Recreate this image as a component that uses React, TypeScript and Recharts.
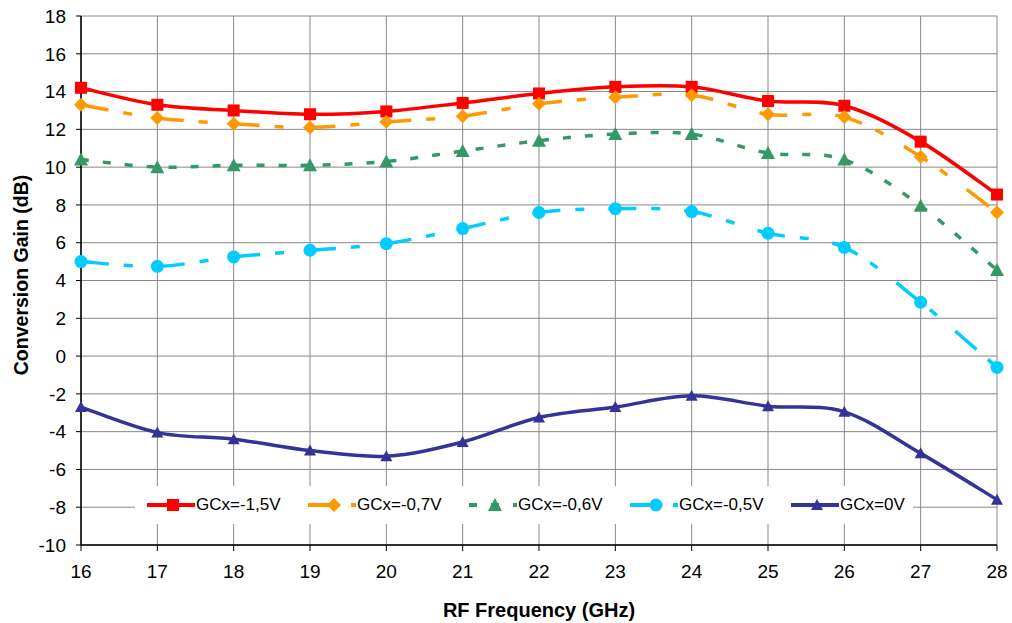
import React from "react";
import { CartesianGrid, Label, Legend, Line, LineChart, XAxis, YAxis } from "recharts";

const freqs = [16, 17, 18, 19, 20, 21, 22, 23, 24, 25, 26, 27, 28];
const gcxM15 = [14.2, 13.3, 13.0, 12.8, 12.95, 13.4, 13.9, 14.25, 14.25, 13.5, 13.25, 11.35, 8.55];
const gcxM07 = [13.3, 12.6, 12.3, 12.1, 12.4, 12.7, 13.35, 13.7, 13.8, 12.8, 12.65, 10.55, 7.6];
const gcxM06 = [10.4, 10.0, 10.1, 10.1, 10.3, 10.85, 11.4, 11.75, 11.75, 10.75, 10.4, 7.95, 4.55];
const gcxM05 = [5.0, 4.75, 5.25, 5.6, 5.95, 6.75, 7.6, 7.8, 7.65, 6.5, 5.75, 2.85, -0.6];
const gcx0 = [-2.7, -4.05, -4.4, -5.0, -5.3, -4.55, -3.25, -2.7, -2.1, -2.65, -2.95, -5.15, -7.6];
const yTicks = [-10, -8, -6, -4, -2, 0, 2, 4, 6, 8, 10, 12, 14, 16, 18];

const data = freqs.map((f, i) => ({
  f,
  m15: gcxM15[i],
  m07: gcxM07[i],
  m06: gcxM06[i],
  m05: gcxM05[i],
  v0: gcx0[i],
}));

// excel-like smoothing (catmull-rom)
function smooth(context: any) {
  let pts: number[][] = [];
  return {
    areaStart() {},
    areaEnd() {},
    lineStart() { pts = []; },
    point(x: number, y: number) { pts.push([+x, +y]); },
    lineEnd() {
      if (!pts.length) return;
      context.moveTo(pts[0][0], pts[0][1]);
      for (let i = 0; i < pts.length - 1; i++) {
        const p0 = pts[i - 1] || pts[i];
        const p1 = pts[i];
        const p2 = pts[i + 1];
        const p3 = pts[i + 2] || p2;
        context.bezierCurveTo(
          p1[0] + (p2[0] - p0[0]) / 6, p1[1] + (p2[1] - p0[1]) / 6,
          p2[0] - (p3[0] - p1[0]) / 6, p2[1] - (p3[1] - p1[1]) / 6,
          p2[0], p2[1]
        );
      }
    },
  };
}

type Shape = "square" | "diamond" | "triangle" | "circle" | "smalltri";

function marker(shape: Shape, x: number, y: number, color: string, key?: any) {
  if (shape === "square") return <rect key={key} x={x - 6} y={y - 6} width={12} height={12} fill={color} />;
  if (shape === "diamond") return <polygon key={key} points={`${x},${y - 7} ${x + 7},${y} ${x},${y + 7} ${x - 7},${y}`} fill={color} />;
  if (shape === "triangle") return <polygon key={key} points={`${x},${y - 7} ${x + 7},${y + 6} ${x - 7},${y + 6}`} fill={color} />;
  if (shape === "smalltri") return <polygon key={key} points={`${x},${y - 6} ${x + 6},${y + 5} ${x - 6},${y + 5}`} fill={color} />;
  return <circle key={key} cx={x} cy={y} r={6.5} fill={color} />;
}

const series = [
  { key: "m15", name: "GCx=-1,5V", color: "#FF0000", dash: undefined, shape: "square" as Shape },
  { key: "m07", name: "GCx=-0,7V", color: "#FF9900", dash: "28 15 9 24", shape: "diamond" as Shape },
  { key: "m06", name: "GCx=-0,6V", color: "#339966", dash: "8 14", shape: "triangle" as Shape },
  { key: "m05", name: "GCx=-0,5V", color: "#00CCFF", dash: "28 15 9 24", shape: "circle" as Shape },
  { key: "v0", name: "GCx=0V", color: "#333399", dash: undefined, shape: "smalltri" as Shape },
];

function LegendBox() {
  return (
    <div style={{ position: "relative", width: 778, height: 38, background: "#fff" }}>
      {series.map((s, i) => (
        <div key={s.key} style={{ position: "absolute", left: 12 + i * 161, top: 0, height: 38 }}>
          <svg width={48} height={38} style={{ position: "absolute", left: 0, top: 0 }}>
            <line x1={0} y1={19} x2={48} y2={19} stroke={s.color} strokeWidth={4} strokeDasharray={s.dash} />
            {marker(s.shape, 26, 19, s.color)}
          </svg>
          <span style={{ position: "absolute", left: 49, top: 9, fontSize: 17, lineHeight: "20px", whiteSpace: "nowrap", color: "#000" }}>
            {s.name}
          </span>
        </div>
      ))}
    </div>
  );
}

export default function App() {
  return (
    <div style={{ position: "absolute", left: 0, top: 0, width: 1012, height: 623, background: "#fff", fontFamily: "'Liberation Sans', Arial, sans-serif" }}>
      <LineChart width={1012} height={623} data={data} margin={{ top: 16, right: 15, left: 0, bottom: 0 }}>
        <CartesianGrid stroke="#888" strokeWidth={1} />
        <XAxis
          dataKey="f"
          type="number"
          domain={[16, 28]}
          ticks={freqs}
          height={78}
          tickSize={6}
          tickMargin={14}
          tick={{ fill: "#000", fontSize: 19 }}
          axisLine={{ stroke: "#000", strokeWidth: 1.5 }}
          tickLine={{ stroke: "#000" }}
        >
          <Label value="RF Frequency (GHz)" position="insideBottom" offset={6} style={{ fontWeight: "bold", fontSize: 20, fill: "#000" }} />
        </XAxis>
        <YAxis
          type="number"
          domain={[-10, 18]}
          ticks={yTicks}
          width={81}
          tickSize={5}
          tickMargin={10}
          interval={0}
          tick={{ fill: "#000", fontSize: 19 }}
          axisLine={{ stroke: "#000", strokeWidth: 1.5 }}
          tickLine={{ stroke: "#000" }}
        >
          <Label
            content={() => (
              <text x={21} y={275} transform="rotate(-90 21 275)" textAnchor="middle" dominantBaseline="central" fontWeight="bold" fontSize={19.5} fill="#000">
                Conversion Gain  (dB)
              </text>
            )}
          />
        </YAxis>
        <Legend
          layout="horizontal"
          verticalAlign="middle"
          align="center"
          content={() => <LegendBox />}
          wrapperStyle={{ left: 135, top: 486, width: 778, height: 38, right: "auto", bottom: "auto" }}
        />
        {series.map((s) => (
          <Line
            key={s.key}
            dataKey={s.key}
            name={s.name}
            type={smooth as any}
            stroke={s.color}
            strokeWidth={3.5}
            strokeDasharray={s.dash}
            dot={(p: any) => marker(s.shape, p.cx, p.cy, s.color, `${s.key}-${p.index}`)}
            activeDot={false}
            isAnimationActive={false}
          />
        ))}
      </LineChart>
    </div>
  );
}
